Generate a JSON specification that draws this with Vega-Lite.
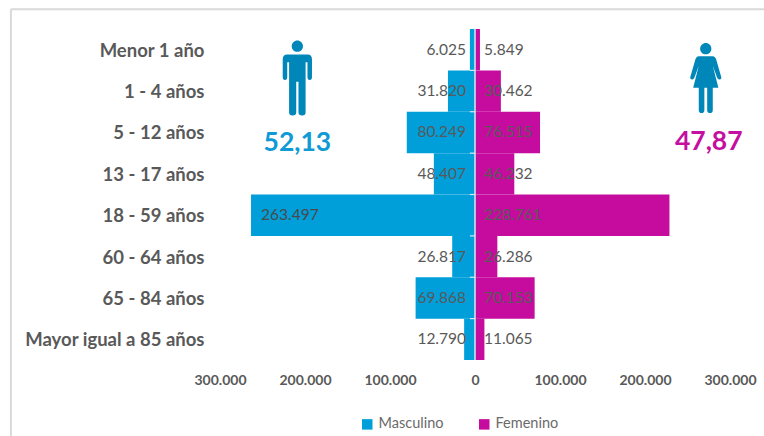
{
"$schema":"https://vega.github.io/schema/vega-lite/v6.json",
"width":510,"height":331,
"autosize":"none",
"padding":{"left":220,"top":29,"right":34,"bottom":76},
"background":"white",
"config":{"view":{"stroke":null},"font":"Lato"},
"datasets":{
"bars":[
{"grupo":"Menor 1 año","sexo":"Masculino","valor":-6025,"etiqueta":"6.025"},
{"grupo":"1 - 4 años","sexo":"Masculino","valor":-31820,"etiqueta":"31.820"},
{"grupo":"5 - 12 años","sexo":"Masculino","valor":-80249,"etiqueta":"80.249"},
{"grupo":"13 - 17 años","sexo":"Masculino","valor":-48407,"etiqueta":"48.407"},
{"grupo":"18 - 59 años","sexo":"Masculino","valor":-263497,"etiqueta":"263.497"},
{"grupo":"60 - 64 años","sexo":"Masculino","valor":-26817,"etiqueta":"26.817"},
{"grupo":"65 - 84 años","sexo":"Masculino","valor":-69868,"etiqueta":"69.868"},
{"grupo":"Mayor igual a 85 años","sexo":"Masculino","valor":-12790,"etiqueta":"12.790"},
{"grupo":"Menor 1 año","sexo":"Femenino","valor":5849,"etiqueta":"5.849"},
{"grupo":"1 - 4 años","sexo":"Femenino","valor":30462,"etiqueta":"30.462"},
{"grupo":"5 - 12 años","sexo":"Femenino","valor":76515,"etiqueta":"76.515"},
{"grupo":"13 - 17 años","sexo":"Femenino","valor":46232,"etiqueta":"46.232"},
{"grupo":"18 - 59 años","sexo":"Femenino","valor":228761,"etiqueta":"228.761"},
{"grupo":"60 - 64 años","sexo":"Femenino","valor":26286,"etiqueta":"26.286"},
{"grupo":"65 - 84 años","sexo":"Femenino","valor":70153,"etiqueta":"70.153"},
{"grupo":"Mayor igual a 85 años","sexo":"Femenino","valor":11065,"etiqueta":"11.065"}
],
"cortes":[{"n":1},{"n":2},{"n":3},{"n":4},{"n":5},{"n":6},{"n":7}]
},
"layer":[
{"layer":[
{"data":{"name":"bars"},
"mark":{"type":"bar","cornerRadius":0},
"encoding":{
"y":{"field":"grupo","type":"nominal",
"scale":{"domain":["Menor 1 año","1 - 4 años","5 - 12 años","13 - 17 años","18 - 59 años","60 - 64 años","65 - 84 años","Mayor igual a 85 años"],"paddingInner":0,"paddingOuter":0},
"axis":{"title":null,"domain":false,"ticks":false,"labelPadding":16,"labelOffset":1,"labelFontSize":18.5,"labelFontWeight":"bold","labelColor":"#595959","labelFont":"Lato","labelLimit":220}},
"x":{"field":"valor","type":"quantitative","stack":null,"scale":{"domain":[-300000,300000],"nice":false},
"axis":{"title":null,"domain":false,"ticks":false,"grid":false,"values":[-300000,-200000,-100000,0,100000,200000,300000],"labelExpr":"replace(format(abs(datum.value),','),',','.')","labelPadding":13,"labelFontSize":14,"labelFontWeight":"bold","labelColor":"#595959","labelFlush":false,"labelOverlap":false}},
"color":{"field":"sexo","type":"nominal","scale":{"domain":["Masculino","Femenino"],"range":["#009FDA","#C60C9F"]},
"legend":{"title":null,"orient":"none","legendX":140,"legendY":388,"direction":"horizontal","symbolType":"square","symbolSize":110,"labelFontSize":14.5,"labelColor":"#6a6a6a","columnPadding":33,"labelOffset":4,"symbolStrokeWidth":0}}
}},
{"data":{"name":"bars"},"transform":[{"filter":"datum.sexo=='Masculino' && datum.valor>-200000"}],
"mark":{"type":"text","align":"right","baseline":"middle","fontSize":15.5,"color":"#595959","dx":-9,"dy":0},
"encoding":{"y":{"field":"grupo","type":"nominal"},"x":{"datum":0},"text":{"field":"etiqueta"}}},
{"data":{"name":"bars"},"transform":[{"filter":"datum.sexo=='Masculino' && datum.valor<-200000"}],
"mark":{"type":"text","align":"left","baseline":"middle","fontSize":15.5,"color":"#4a4a4a","dx":10,"dy":0},
"encoding":{"y":{"field":"grupo","type":"nominal"},"x":{"field":"valor","type":"quantitative"},"text":{"field":"etiqueta"}}},
{"data":{"name":"bars"},"transform":[{"filter":"datum.sexo=='Femenino'"}],
"mark":{"type":"text","align":"left","baseline":"middle","fontSize":15.5,"color":"#595959","dx":9,"dy":0},
"encoding":{"y":{"field":"grupo","type":"nominal"},"x":{"datum":0},"text":{"field":"etiqueta"}}},
{"data":{"values":[{"g":"Masculino","rotulo":"52,13","px":-209000}]},
"mark":{"type":"text","fontSize":26.5,"fontWeight":"bold","color":"#0F9AD6","align":"center","baseline":"middle","yOffset":11},
"encoding":{"x":{"field":"px","type":"quantitative"},"y":{"datum":"5 - 12 años"},"text":{"field":"rotulo"}}},
{"data":{"values":[{"g":"Femenino","rotulo":"47,87","px":275000}]},
"mark":{"type":"text","fontSize":26.5,"fontWeight":"bold","color":"#C40FA0","align":"center","baseline":"middle","yOffset":10},
"encoding":{"x":{"field":"px","type":"quantitative"},"y":{"datum":"5 - 12 años"},"text":{"field":"rotulo"}}},
{"data":{"values":[{"g":"Masculino","px":-209000}]},
"mark":{"type":"point","filled":true,"opacity":1,"color":"#0087B9","size":5625,"yOffset":-13,
"shape":"M0,-1 A0.15,0.15 0 1 1 0,-0.7 A0.15,0.15 0 1 1 0,-1 Z M-0.27,-0.63 L0.27,-0.63 Q0.39,-0.63 0.39,-0.5 L0.39,-0.03 Q0.39,0.05 0.33,0.05 Q0.27,0.05 0.27,-0.03 L0.27,-0.42 L0.22,-0.42 L0.22,0.92 Q0.22,1 0.13,1 Q0.03,1 0.03,0.92 L0.03,0.1 L-0.03,0.1 L-0.03,0.92 Q-0.03,1 -0.13,1 Q-0.22,1 -0.22,0.92 L-0.22,-0.42 L-0.27,-0.42 L-0.27,-0.03 Q-0.27,0.05 -0.33,0.05 Q-0.39,0.05 -0.39,-0.03 L-0.39,-0.5 Q-0.39,-0.63 -0.27,-0.63 Z"},
"encoding":{"x":{"field":"px","type":"quantitative"},"y":{"datum":"1 - 4 años"}}},
{"data":{"values":[{"g":"Femenino","px":271500}]},
"mark":{"type":"point","filled":true,"opacity":1,"color":"#0087B9","size":4900,"yOffset":-13,
"shape":"M0,-1 A0.16,0.16 0 1 1 0,-0.68 A0.16,0.16 0 1 1 0,-1 Z M-0.2,-0.62 L0.2,-0.62 Q0.27,-0.62 0.3,-0.52 L0.44,-0.04 Q0.46,0.03 0.39,0.04 Q0.34,0.05 0.32,-0.02 L0.2,-0.35 L0.36,0.28 L0.2,0.28 L0.2,0.92 Q0.2,1 0.12,1 Q0.04,1 0.04,0.92 L0.04,0.28 L-0.04,0.28 L-0.04,0.92 Q-0.04,1 -0.12,1 Q-0.2,1 -0.2,0.92 L-0.2,0.28 L-0.36,0.28 L-0.2,-0.35 L-0.32,-0.02 Q-0.34,0.05 -0.39,0.04 Q-0.46,0.03 -0.44,-0.04 L-0.3,-0.52 Q-0.27,-0.62 -0.2,-0.62 Z"},
"encoding":{"x":{"field":"px","type":"quantitative"},"y":{"datum":"1 - 4 años"}}}
]},
{"layer":[
{"data":{"values":[{"y0":0,"y1":8}]},
"mark":{"type":"rule","color":"#d5eaf4","strokeWidth":1.5},
"encoding":{"x":{"datum":0},"y":{"field":"y0","type":"quantitative","scale":{"domain":[0,8],"nice":false},"axis":null},"y2":{"field":"y1"}}},
{"data":{"name":"cortes"},
"mark":{"type":"rule","color":"#d5eaf4","strokeWidth":1.2},
"encoding":{"x":{"datum":-6000},"x2":{"datum":0},"y":{"field":"n","type":"quantitative","axis":null}}},
{"data":{"values":[{"y0":-1.85,"y1":8.48}]},
"mark":{"type":"rule","color":"#D9D9D9","strokeWidth":2,"clip":false},
"encoding":{"x":{"datum":-546000},"y":{"field":"y0","type":"quantitative","axis":null},"y2":{"field":"y1"}}},
{"data":{"values":[{"y1":8.48}]},
"mark":{"type":"rule","color":"#D9D9D9","strokeWidth":2,"clip":false},
"encoding":{"x":{"datum":-546000},"x2":{"datum":345000},"y":{"field":"y1","type":"quantitative","axis":null}}}
]}
],
"resolve":{"scale":{"y":"independent"}}
}
